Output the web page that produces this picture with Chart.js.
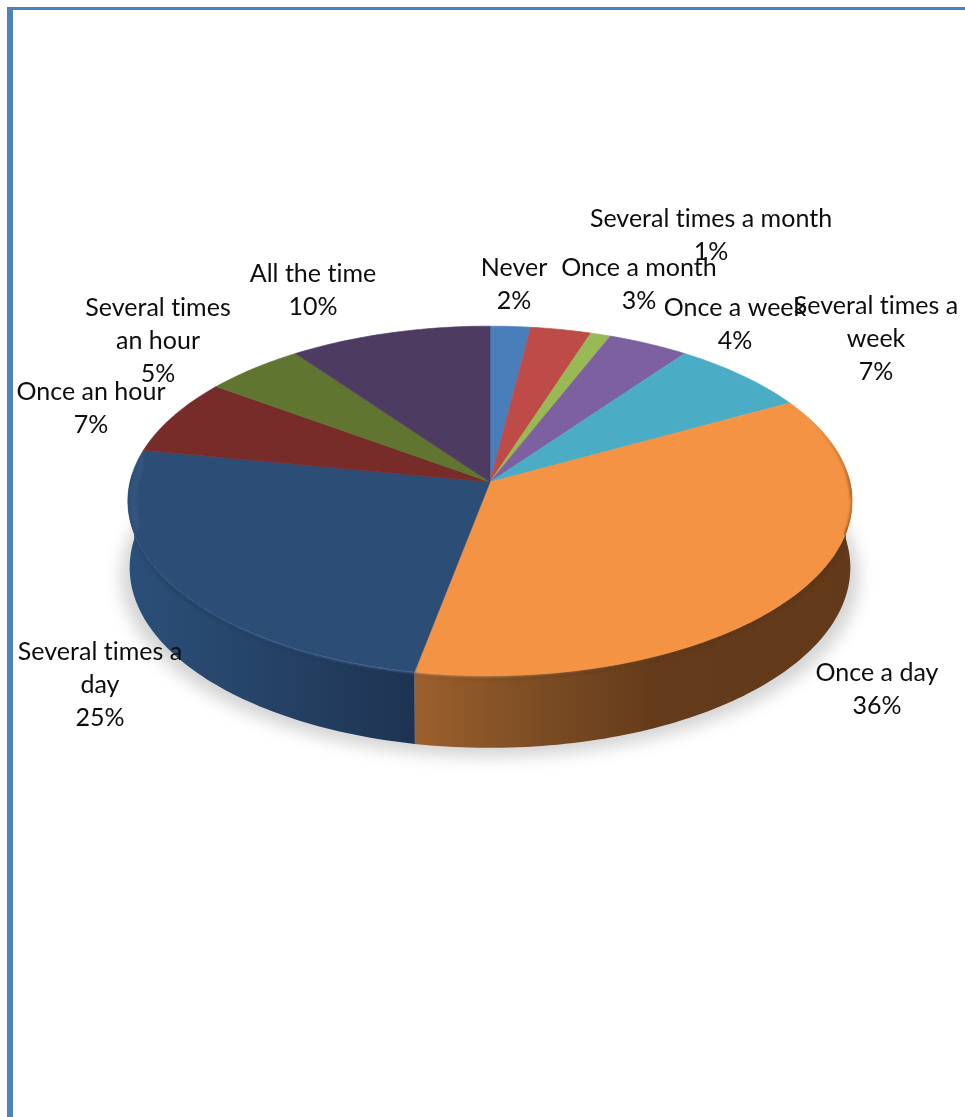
<!DOCTYPE html>
<html>
<head>
<meta charset="utf-8">
<style>
  html, body { margin: 0; padding: 0; background: #fff; width: 965px; height: 1117px; overflow: hidden; }
  #frameTop { position: absolute; left: 7px; top: 7px; right: 0; height: 3px; background: #4f81bd; }
  #frameLeft { position: absolute; left: 7px; top: 7px; bottom: 0; width: 6px; background: #4f81bd; }
  canvas { position: absolute; left: 0; top: 0; }
</style>
<script src="https://cdn.jsdelivr.net/npm/chart.js@4"></script>
</head>
<body>
<div id="frameTop"></div>
<div id="frameLeft"></div>
<canvas id="pie" width="965" height="1117"></canvas>
<script>
// Survey answers: how often respondents do the activity.
const categories = ['Never', 'Once a month', 'Several times a month', 'Once a week', 'Several times a week',
  'Once a day', 'Several times a day', 'Once an hour', 'Several times an hour', 'All the time'];
const percentages = [2, 3, 1, 4, 7, 36, 25, 7, 5, 10];
const sliceColors = ['#4a7ebb', '#be4b48', '#98b954', '#7d60a0', '#4aacc5',
  '#f39343', '#2c4d75', '#772c2a', '#5f7530', '#4d3b62'];

// Wrapped label text, with each label's centre x and first baseline.
const labelLines = [['Never'], ['Once a month'], ['Several times a month'], ['Once a week'],
  ['Several times a', 'week'], ['Once a day'], ['Several times a', 'day'], ['Once an hour'],
  ['Several times', 'an hour'], ['All the time']];
const labelAnchors = [[514, 276], [639, 276], [711, 227], [735, 316], [876, 314],
  [877, 681], [100, 660], [91, 400], [158, 316], [313, 282]];
const labelLineHeight = 33;
const labelFont = '25px Lato, Carlito, sans-serif';

// Side wall shading by slice index: [fraction across the wall, colour].
const wallShades = {
  5: [[0, '#9c602d'], [0.25, '#7f4f25'], [0.55, '#643b1b'], [1, '#623a1a']],
  6: [[0, '#2b4f79'], [0.45, '#264468'], [1, '#1e3352']]
};

// Pinhole view of the disc: foreshortening, perspective strength and wall height.
const squash = 0.48;
const perspective = 0.1086;
const wallDepth = 66;
const wallSwell = 6;

function project(arc, angle, scale) {
  const u = scale * Math.cos(angle), v = scale * Math.sin(angle);
  const w = 1 - perspective * v;
  return { x: arc.x + arc.outerRadius * u / w, y: arc.y + arc.outerRadius * squash * v / w, v };
}
function projectBase(arc, angle) {
  const p = project(arc, angle, 1);
  return { x: arc.x + (p.x - arc.x) * 0.995, y: p.y + wallDepth + wallSwell * p.v };
}
function samples(from, to) {
  const n = Math.max(2, Math.ceil(Math.abs(to - from) / 0.02));
  const out = [];
  for (let i = 0; i <= n; i++) out.push(from + (to - from) * i / n);
  return out;
}
function traceTop(ctx, arc) {
  ctx.beginPath();
  ctx.moveTo(arc.x, arc.y);
  samples(arc.startAngle, arc.endAngle).forEach(a => { const p = project(arc, a, 1); ctx.lineTo(p.x, p.y); });
  ctx.closePath();
}
function visibleWall(arc) {
  const from = Math.max(arc.startAngle, -0.05), to = Math.min(arc.endAngle, Math.PI + 0.05);
  return to > from ? [from, to] : null;
}
function traceWall(ctx, arc, from, to) {
  const angles = samples(from, to);
  ctx.beginPath();
  angles.forEach((a, i) => { const p = project(arc, a, 1); i ? ctx.lineTo(p.x, p.y) : ctx.moveTo(p.x, p.y); });
  angles.slice().reverse().forEach(a => { const p = projectBase(arc, a); ctx.lineTo(p.x, p.y); });
  ctx.closePath();
}

function drawShadow(ctx, arc) {
  ctx.save();
  ctx.filter = 'blur(8px)';
  ctx.fillStyle = 'rgba(0,0,0,0.17)';
  ctx.beginPath();
  samples(0, Math.PI * 2).forEach((a, i) => {
    const p = projectBase(arc, a);
    const x = arc.x + (p.x - arc.x) * 1.024, y = p.y + 9;
    i ? ctx.lineTo(x, y) : ctx.moveTo(x, y);
  });
  ctx.closePath();
  ctx.fill();
  ctx.restore();
}

function drawWall(ctx, arc, index) {
  const span = visibleWall(arc);
  if (!span) return;
  const xs = samples(span[0], span[1]).map(a => project(arc, a, 1).x);
  const left = Math.min(...xs), right = Math.max(...xs);
  const gradient = ctx.createLinearGradient(left, 0, right, 0);
  (wallShades[index] || [[0, '#333'], [1, '#333']]).forEach(s => gradient.addColorStop(s[0], s[1]));
  traceWall(ctx, arc, span[0], span[1]);
  ctx.fillStyle = gradient;
  ctx.fill();
}

// Soft bevel along the rim: alpha is worked out per short segment.
function bevelStroke(ctx, arc, from, to, scale, width, blur, color, alphaAt) {
  ctx.save();
  ctx.filter = `blur(${blur}px)`;
  ctx.lineWidth = width;
  ctx.lineCap = 'butt';
  ctx.strokeStyle = color;
  const angles = samples(from, to);
  for (let i = 0; i < angles.length - 1; i++) {
    const alpha = alphaAt((angles[i] + angles[i + 1]) / 2);
    if (alpha <= 0.01) continue;
    const a = project(arc, angles[i], scale), b = project(arc, angles[i + 1], scale);
    ctx.globalAlpha = alpha;
    ctx.beginPath();
    ctx.moveTo(a.x, a.y);
    ctx.lineTo(b.x, b.y);
    ctx.stroke();
  }
  ctx.restore();
}

const clamp01 = t => Math.max(0, Math.min(1, t));

function drawBevel(ctx, arc, index) {
  const deg = Math.PI / 180;
  ctx.save();
  // Keep the glow inside this slice's top face and wall.
  ctx.beginPath();
  const outline = samples(arc.startAngle, arc.endAngle);
  ctx.moveTo(arc.x, arc.y);
  outline.forEach(a => { const p = project(arc, a, 1); ctx.lineTo(p.x, p.y); });
  outline.slice().reverse().forEach(a => {
    const p = projectBase(arc, a);
    ctx.lineTo(p.x, p.y);
  });
  ctx.closePath();
  ctx.clip();
  if (index === 5) {
    bevelStroke(ctx, arc, arc.startAngle, arc.endAngle, 0.985, 8, 1.6, '#ffb579',
      a => clamp01((a - 50 * deg) / (45 * deg)));
    bevelStroke(ctx, arc, -5 * deg, arc.endAngle, 1.004, 5, 1.8, '#5e3618',
      a => clamp01((a + 5 * deg) / (25 * deg)) * Math.max(0.2, clamp01((105 * deg - a) / (50 * deg))));
    bevelStroke(ctx, arc, -22 * deg, 5 * deg, 1.003, 5, 1.8, '#6b3e1c',
      a => clamp01((a + 22 * deg) / (20 * deg)) * 0.5);
  }
  if (index === 6) {
    bevelStroke(ctx, arc, arc.startAngle, arc.endAngle, 0.985, 8, 1.6, '#7198c8',
      a => 0.12 + 0.88 * clamp01((165 * deg - a) / (50 * deg)));
    bevelStroke(ctx, arc, arc.startAngle, 168 * deg, 1.006, 4, 1.4, '#1f3658',
      a => 0.4 * clamp01((168 * deg - a) / (28 * deg)));
  }
  ctx.restore();
}

const discPainter = {
  id: 'discPainter',
  beforeDatasetsDraw(chart) {
    const ctx = chart.ctx;
    const arcs = chart.getDatasetMeta(0).data;
    drawShadow(ctx, arcs[0]);
    arcs.forEach((arc, i) => drawWall(ctx, arc, i));
    arcs.forEach(arc => {
      traceTop(ctx, arc);
      ctx.fillStyle = arc.options.backgroundColor;
      ctx.strokeStyle = arc.options.backgroundColor;
      ctx.lineWidth = 0.6;
      ctx.fill();
      ctx.stroke();
    });
    arcs.forEach((arc, i) => drawBevel(ctx, arc, i));
    return false;
  },
  afterDraw(chart) {
    const ctx = chart.ctx;
    ctx.save();
    ctx.font = labelFont;
    ctx.letterSpacing = '0.01px';
    ctx.fillStyle = '#0d0d0d';
    ctx.textAlign = 'center';
    ctx.textBaseline = 'alphabetic';
    labelLines.forEach((lines, i) => {
      const [x, y] = labelAnchors[i];
      lines.concat(`${percentages[i]}%`).forEach((text, row) => {
        ctx.fillText(text, x, y + row * labelLineHeight);
      });
    });
    ctx.restore();
  }
};

new Chart(document.getElementById('pie'), {
  type: 'pie',
  data: {
    labels: categories,
    datasets: [{ data: percentages, backgroundColor: sliceColors, borderWidth: 0 }]
  },
  options: {
    responsive: false,
    animation: false,
    layout: { padding: { left: 130, right: 115, top: 122, bottom: 275 } },
    plugins: { legend: { display: false }, tooltip: { enabled: false } }
  },
  plugins: [discPainter]
});
</script>
</body>
</html>
